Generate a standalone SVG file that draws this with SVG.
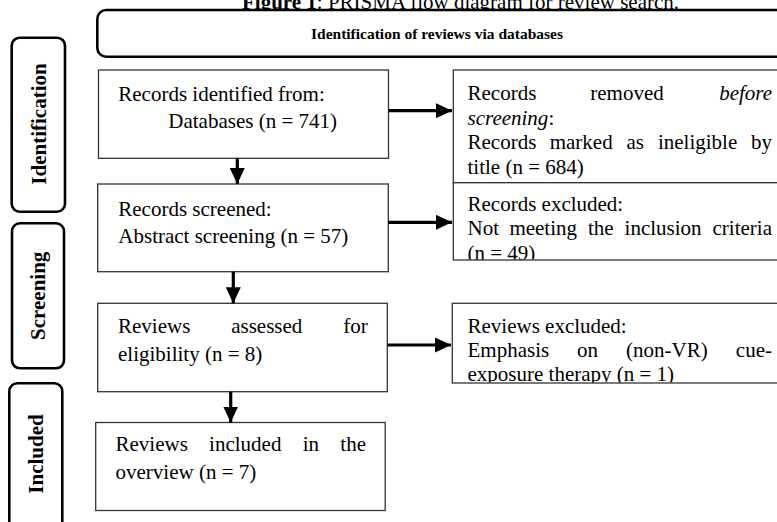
<svg xmlns="http://www.w3.org/2000/svg" width="777" height="522" viewBox="0 0 777 522">
  <style>
    .t { font-family: "Liberation Serif", "Times New Roman", serif; font-size: 21px; fill: #000; }
    .b { font-weight: bold; }
    .i { font-style: italic; }
    .box { fill: #fff; stroke: #333; stroke-width: 1.3; }
    .stage { fill: #fff; stroke: #000; stroke-width: 2.6; }
    .arrow { stroke: #000; stroke-width: 3.2; fill: none; marker-end: url(#head); }
  </style>
  <defs>
    <marker id="head" markerUnits="userSpaceOnUse" markerWidth="16" markerHeight="15" refX="16" refY="7.5" orient="auto">
      <path d="M0,0 L16,7.5 L0,15 z" fill="#000"/>
    </marker>
    <clipPath id="clipR1"><rect x="453" y="70" width="340" height="112"/></clipPath>
    <clipPath id="clipR2"><rect x="453" y="183" width="340" height="76.5"/></clipPath>
    <clipPath id="clipR3"><rect x="452" y="303" width="340" height="79.5"/></clipPath>
  </defs>
  <rect width="777" height="522" fill="#fff"/>

  <!-- caption (runs off the top edge) -->
  <text class="t" x="460.5" y="8.5" text-anchor="middle"><tspan class="b">Figure 1</tspan>: PRISMA flow diagram for review search.</text>

  <!-- header band -->
  <g id="header">
    <rect class="stage" x="97.3" y="10" width="760" height="46.7" rx="9"/>
    <text class="t b" x="437" y="38.8" text-anchor="middle" style="font-size:15.5px">Identification of reviews via databases</text>
  </g>

  <!-- stage labels -->
  <g id="stage-identification">
    <rect class="stage" x="11.7" y="37.7" width="53.3" height="174" rx="8"/>
    <text class="t b" transform="translate(45.5,124) rotate(-90)" text-anchor="middle">Identification</text>
  </g>
  <g id="stage-screening">
    <rect class="stage" x="12" y="223.3" width="52" height="145" rx="8"/>
    <text class="t b" transform="translate(45,295.8) rotate(-90)" text-anchor="middle">Screening</text>
  </g>
  <g id="stage-included">
    <rect class="stage" x="9.3" y="383.3" width="53" height="170" rx="8"/>
    <text class="t b" transform="translate(42.8,454) rotate(-90)" text-anchor="middle">Included</text>
  </g>

  <!-- main column -->
  <g id="records-identified">
    <rect class="box" x="98.5" y="70" width="290" height="88.3"/>
    <text class="t" x="118.3" y="100.7">Records identified from:</text>
    <text class="t" x="168.3" y="128.2">Databases (n = 741)</text>
  </g>
  <g id="records-screened">
    <rect class="box" x="97.7" y="184" width="290.6" height="87.7"/>
    <text class="t" x="118.3" y="215.5">Records screened:</text>
    <text class="t" x="118.3" y="243">Abstract screening (n = 57)</text>
  </g>
  <g id="reviews-assessed">
    <rect class="box" x="97.7" y="303.3" width="289.6" height="88.4"/>
    <text class="t" y="333.3"><tspan x="118">Reviews</tspan><tspan x="231.2">assessed</tspan></text>
    <text class="t" x="367.8" y="333.3" text-anchor="end">for</text>
    <text class="t" x="118" y="360.8">eligibility (n = 8)</text>
  </g>
  <g id="reviews-included">
    <rect class="box" x="95.7" y="422.5" width="289.5" height="88"/>
    <text class="t" y="451"><tspan x="115.5">Reviews</tspan><tspan x="209.1">included</tspan><tspan x="302.7">in</tspan></text>
    <text class="t" x="366" y="451" text-anchor="end">the</text>
    <text class="t" x="115.5" y="478.5">overview (n = 7)</text>
  </g>

  <!-- exclusion column -->
  <g id="records-removed">
    <rect class="box" x="453.3" y="70" width="340" height="112.7"/>
    <g clip-path="url(#clipR1)">
      <text class="t" y="100"><tspan x="467.5">Records</tspan><tspan x="590.3">removed</tspan></text>
      <text class="t i" x="772" y="100" text-anchor="end">before</text>
      <text class="t" x="467.5" y="124.5"><tspan class="i">screening</tspan>:</text>
      <text class="t" y="149"><tspan x="467.5">Records</tspan><tspan x="549.7">marked</tspan><tspan x="626.5">as</tspan><tspan x="657.9">ineligible</tspan></text>
      <text class="t" x="772" y="149" text-anchor="end">by</text>
      <text class="t" x="467.5" y="174">title (n = 684)</text>
    </g>
  </g>
  <g id="records-excluded">
    <rect class="box" x="453.3" y="182.7" width="340" height="77.3"/>
    <g clip-path="url(#clipR2)">
      <text class="t" x="467.5" y="211">Records excluded:</text>
      <text class="t" y="235"><tspan x="467.5">Not</tspan><tspan x="509.4">meeting</tspan><tspan x="588">the</tspan><tspan x="624.6">inclusion</tspan></text>
      <text class="t" x="772" y="235" text-anchor="end">criteria</text>
      <text class="t" x="467.5" y="259.5">(n = 49)</text>
    </g>
  </g>
  <g id="reviews-excluded">
    <rect class="box" x="452.3" y="303.3" width="340" height="79.7"/>
    <g clip-path="url(#clipR3)">
      <text class="t" x="467.5" y="333">Reviews excluded:</text>
      <text class="t" y="357.2"><tspan x="467.5">Emphasis</tspan><tspan x="576.9">on</tspan><tspan x="626.1">(non-VR)</tspan></text>
      <text class="t" x="772" y="357.2" text-anchor="end">cue-</text>
      <text class="t" x="467.5" y="381.4">exposure therapy (n = 1)</text>
    </g>
  </g>

  <!-- connectors -->
  <g id="connectors">
    <line class="arrow" x1="237.3" y1="158.3" x2="237.3" y2="184"/>
    <line class="arrow" x1="233.3" y1="271.7" x2="233.3" y2="303.3"/>
    <line class="arrow" x1="230.7" y1="391.7" x2="230.7" y2="422.5"/>
    <line class="arrow" x1="388.5" y1="110.7" x2="452" y2="110.7"/>
    <line class="arrow" x1="388.3" y1="222.3" x2="452" y2="222.3"/>
    <line class="arrow" x1="387.3" y1="345" x2="451" y2="345"/>
  </g>
</svg>
